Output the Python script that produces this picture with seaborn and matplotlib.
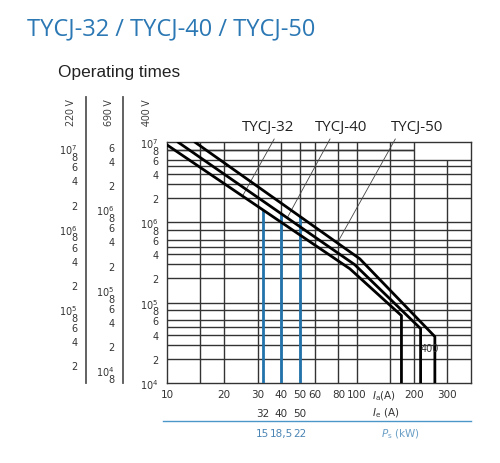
import numpy as np
import pandas as pd
import matplotlib
matplotlib.use("Agg")
import matplotlib.pyplot as plt
import matplotlib.ticker as mticker
import seaborn as sns

# --- DATA ---
# operating cycles at 400 V vs breaking current Ia (A)
MODELS = ["TYCJ-32", "TYCJ-40", "TYCJ-50"]
I_32 = [10, 92, 172, 172]
T_32 = [9.2e6, 2.64e5, 6.9e4, 1e4]
I_40 = [11.4, 97.6, 217, 217]
T_40 = [1e7, 2.97e5, 4.75e4, 1e4]
I_50 = [14.0, 103.7, 258, 258]
T_50 = [1e7, 3.52e5, 3.78e4, 1e4]

# rated current Ie (A) and motor power Ps (kW)
IE = [32, 40, 50]
PS = ["15", "18,5", "22"]

# where the model labels sit and where their leaders touch the curves
LABEL_I = [34, 83, 207]
LEADER_I = [25, 43, 79]

X_TICKS = [10, 20, 30, 40, 50, 60, 80, 100, 200, 300]
X_GRID = [15, 20, 30, 40, 50, 60, 80, 100, 150, 200, 300]
T_GRID = [m * 10.0 ** k for k in (4, 5, 6) for m in (2, 3, 4, 5, 6, 8)] + [1e5, 1e6]

# other voltages: cycles scale relative to the 400 V scale
VOLTS = ["220 V", "690 V", "400 V"]
VOLT_FACTOR = [1.2, 0.69]
TICKS_220 = [2e4, 4e4, 6e4, 8e4, 1e5, 2e5, 4e5, 6e5, 8e5, 1e6, 2e6, 4e6, 6e6, 8e6, 1e7]
TICKS_690 = [8e3, 1e4, 2e4, 4e4, 6e4, 8e4, 1e5, 2e5, 4e5, 6e5, 8e5, 1e6, 2e6, 4e6, 6e6]
TICKS_400 = [1e4, 2e4, 4e4, 6e4, 8e4, 1e5, 2e5, 4e5, 6e5, 8e5, 1e6, 2e6, 4e6, 6e6, 8e6, 1e7]

BLUE = "#2272ab"
DARK = "#333333"
TICK_FS = 7

sns.set_theme(style="white")
plt.rcParams["font.family"] = ["DejaVu Sans"]

W, H = 500, 464


def rect(x0, y0, x1, y1):
    return [x0 / W, 1 - y1 / H, (x1 - x0) / W, (y1 - y0) / H]


def tick_label(v):
    e = int(round(np.log10(v)))
    if abs(v - 10.0 ** e) < 1e-6 * v:
        return r"$10^{%d}$" % e
    return "%d" % round(v / 10.0 ** np.floor(np.log10(v)))


def curve_t(i, xs, ts):
    return 10 ** np.interp(np.log10(i), np.log10(xs[:3]), np.log10(ts[:3]))


curves = pd.concat([
    pd.DataFrame({"I": xs, "t": ts, "model": m})
    for m, xs, ts in zip(MODELS, [I_32, I_40, I_50], [T_32, T_40, T_50])
])

fig = plt.figure(figsize=(5, 4.64), dpi=100)

# main plot (400 V scale on its left spine)
PX0, PY0, PX1, PY1 = 167, 143, 471, 384
ax = fig.add_axes(rect(PX0, PY0, PX1, PY1))
ax.set_xscale("log")
ax.set_yscale("log")
ax.set_xlim(10, 400)
ax.set_ylim(1e4, 1e7)

for g in T_GRID + [8e6]:
    ax.hlines(g, 10, 200 if g == 8e6 else 400, color="#333333", lw=1.0, zorder=1)
for v in X_GRID:
    ax.vlines(v, 1e4, 6e6 if v == 300 else 1e7, color="#333333", lw=1.0, zorder=1)

# rated currents up to their curve
for ie, xs, ts in zip(IE, [I_32, I_40, I_50], [T_32, T_40, T_50]):
    ax.vlines(ie, 1e4, curve_t(ie, xs, ts), color=BLUE, lw=2.0, zorder=3)

sns.lineplot(data=curves, x="I", y="t", hue="model", palette=["black"] * 3,
             sort=False, estimator=None, legend=False, lw=2.0, ax=ax, zorder=4)

for name, lx, li, xs, ts, rx in zip(MODELS, LABEL_I, LEADER_I,
                                    [I_32, I_40, I_50], [T_32, T_40, T_50],
                                    [0.67, 0.33, 0.14]):
    ax.annotate(name, xy=(li, curve_t(li, xs, ts)), xytext=(lx, 1.54e7),
                ha="center", va="center", fontsize=10.8, family="Open Sans", color="#222",
                annotation_clip=False,
                arrowprops=dict(arrowstyle="-", lw=0.6, color="#444",
                                relpos=(rx, 0), shrinkA=1, shrinkB=0))

ax.text(242, 2.75e4, "400", fontsize=TICK_FS, ha="center", va="center", color=DARK, zorder=5)

for s in ax.spines.values():
    s.set_color(DARK)
    s.set_linewidth(1.0)
ax.set_xticks(X_TICKS, [str(v) for v in X_TICKS])
ax.set_yticks(TICKS_400, [tick_label(v) for v in TICKS_400])
ax.xaxis.set_minor_locator(mticker.NullLocator())
ax.yaxis.set_minor_locator(mticker.NullLocator())
ax.tick_params(axis="x", direction="out", length=2.5, width=0.8, pad=1.5,
               labelsize=TICK_FS + 0.5, labelcolor=DARK, color=DARK)
ax.tick_params(axis="y", direction="out", length=4.5, width=0.8, pad=1.5,
               labelsize=TICK_FS, labelcolor=DARK, color=DARK)
ax.set_xlabel("")
ax.set_ylabel("")

# 220 V and 690 V scales
TOP_PX = 98
decade_px = (PY1 - PY0) / 3.0
top400 = 1e7 * 10 ** ((PY0 - TOP_PX) / decade_px)
for x, f, ticks in zip([86, 123], VOLT_FACTOR, [TICKS_220, TICKS_690]):
    sa = fig.add_axes(rect(x, TOP_PX, x + 1, PY1))
    sa.set_yscale("log")
    sa.set_ylim(1e4 * f, top400 * f)
    sa.patch.set_visible(False)
    for k, s in sa.spines.items():
        s.set_visible(k == "left")
    sa.spines["left"].set_color("#555555")
    sa.spines["left"].set_linewidth(1.3)
    sa.set_xticks([])
    sa.set_yticks(ticks, [tick_label(v) for v in ticks])
    sa.yaxis.set_minor_locator(mticker.NullLocator())
    sa.tick_params(axis="y", direction="out", length=4.5, width=0.8, pad=1.5,
                   labelsize=TICK_FS, labelcolor=DARK, color=DARK)

for x, lab in zip([72, 110, 148], VOLTS):
    fig.text(x / W, 1 - 113 / H, lab, rotation=90, ha="center", va="center",
             fontsize=7.5, family="Open Sans", color=DARK)

# Ie row
ie_ax = fig.add_axes(rect(PX0, 402, PX1, 402))
ie_ax.set_xscale("log")
ie_ax.set_xlim(10, 400)
ie_ax.patch.set_visible(False)
for s in ie_ax.spines.values():
    s.set_visible(False)
ie_ax.set_yticks([])
ie_ax.set_xticks(IE, [str(v) for v in IE])
ie_ax.xaxis.set_minor_locator(mticker.NullLocator())
ie_ax.tick_params(axis="x", direction="out", length=4.3, width=0.8, pad=1,
                  labelsize=TICK_FS + 0.5, labelcolor=DARK, color="#555555")

# Ps row with blue rule
x_lo = 10 ** (1 - 4 / ((PX1 - PX0) / np.log10(40)))
ps_ax = fig.add_axes(rect(PX0 - 4, 422, PX1, 422))
ps_ax.set_xscale("log")
ps_ax.set_xlim(x_lo, 400)
ps_ax.patch.set_visible(False)
for k, s in ps_ax.spines.items():
    s.set_visible(k == "bottom")
ps_ax.spines["bottom"].set_color("#4a97c8")
ps_ax.spines["bottom"].set_linewidth(1.0)
ps_ax.set_yticks([])
ps_ax.set_xticks(IE, PS)
ps_ax.xaxis.set_minor_locator(mticker.NullLocator())
ps_ax.tick_params(axis="x", direction="out", length=3, width=0.8, pad=2,
                  labelsize=TICK_FS + 0.5, labelcolor="#4a85b5", color="#4a97c8")

fig.text(384 / W, 1 - 396 / H, r"$I_{\rm a}$(A)", ha="center", va="center",
         fontsize=7.5, color=DARK)
fig.text(386 / W, 1 - 413 / H, r"$I_{\rm e}$ (A)", ha="center", va="center",
         fontsize=7.5, color=DARK)
fig.text(401 / W, 1 - 434 / H, r"$P_{\rm s}$ (kW)", ha="center", va="center",
         fontsize=7.5, color="#6a9fc6")

fig.text(27 / W, 1 - 35 / H, "TYCJ-32 / TYCJ-40 / TYCJ-50", fontsize=17,
         family="Open Sans", color="#2b78b4", va="baseline")
fig.text(58 / W, 1 - 77 / H, "Operating times", fontsize=12.4,
         family="Liberation Sans", color="#222222", va="baseline")

fig.savefig("out.png", dpi=100)
